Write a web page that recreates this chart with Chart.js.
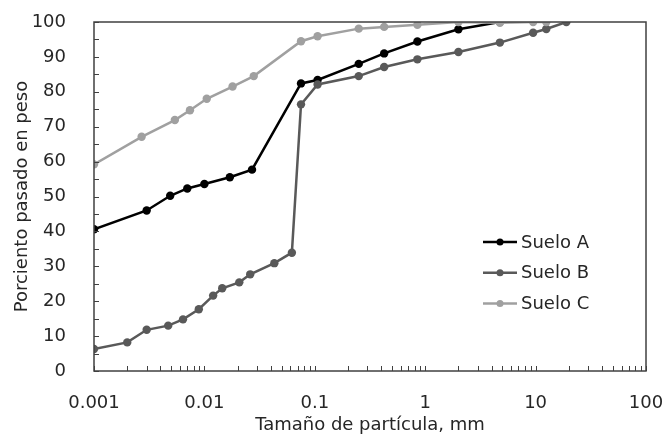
<!DOCTYPE html>
<html>
<head>
<meta charset="utf-8">
<script src="https://cdn.jsdelivr.net/npm/chart.js@4.4.1/dist/chart.umd.min.js"></script>
<style>
    html, body { margin: 0; padding: 0; background: #ffffff; }
    #wrap { width: 668px; height: 440px; position: relative; }
</style>
</head>
<body>
<div id="wrap"><canvas id="gradChart"></canvas></div>
<script>
// Data (particle size in mm, percent passing)
const sueloA_x = [0.001, 0.003, 0.0049, 0.007, 0.01, 0.017, 0.027, 0.075, 0.106, 0.25, 0.425, 0.85, 2, 4.75];
const sueloA_y = [40.6, 46, 50.2, 52.3, 53.6, 55.5, 57.7, 82.4, 83.4, 88, 91, 94.4, 97.9, 100];

const sueloB_x = [0.001, 0.002, 0.003, 0.0047, 0.0064, 0.0089, 0.012, 0.0145, 0.0207, 0.026, 0.043, 0.062, 0.075, 0.106, 0.25, 0.425, 0.85, 2, 4.75, 9.5, 12.5, 19];
const sueloB_y = [6.3, 8.2, 11.8, 13, 14.8, 17.7, 21.6, 23.7, 25.4, 27.7, 30.9, 33.9, 76.4, 82.1, 84.5, 87.1, 89.3, 91.4, 94.1, 96.9, 98, 100];

const sueloC_x = [0.001, 0.0027, 0.0054, 0.0074, 0.0105, 0.018, 0.028, 0.075, 0.106, 0.25, 0.425, 0.85, 2, 4.75, 9.5, 12.5];
const sueloC_y = [59.2, 67.1, 71.9, 74.7, 78, 81.5, 84.5, 94.5, 95.9, 98.1, 98.6, 99.2, 100, 99.8, 100, 100];

const seriesNames = ['Suelo A', 'Suelo B', 'Suelo C'];
const seriesColors = ['#000000', '#595959', '#a0a0a0'];

const xDecades = [0.001, 0.01, 0.1, 1, 10, 100];
const xTickLabels = ['0.001', '0.01', '0.1', '1', '10', '100'];
const yTicks = [0, 5, 10, 15, 20, 25, 30, 35, 40, 45, 50, 55, 60, 65, 70, 75, 80, 85, 90, 95, 100];

const textColor = '#262626';
const frameColor = '#404040';
const fontFamily = "'DejaVu Sans', Verdana, sans-serif";

const toPoints = (xs, ys) => xs.map((x, i) => ({ x: x, y: ys[i] }));

const allX = [sueloA_x, sueloB_x, sueloC_x];
const allY = [sueloA_y, sueloB_y, sueloC_y];

const datasets = seriesNames.map((name, i) => ({
    label: name,
    data: toPoints(allX[i], allY[i]),
    borderColor: seriesColors[i],
    backgroundColor: seriesColors[i],
    pointBackgroundColor: seriesColors[i],
    pointBorderColor: seriesColors[i],
    borderWidth: 2.5,
    pointRadius: 4.2,
    pointBorderWidth: 0,
    showLine: true,
    tension: 0,
    order: 3 - i // later series on top, like the spreadsheet
}));

// inward tick marks, plot frame and the line+marker legend
const framePlugin = {
    id: 'frame',
    afterDatasetsDraw: (chart) => {
        const { ctx, chartArea } = chart;
        const xs = chart.scales.x;
        const ys = chart.scales.y;
        ctx.save();
        ctx.strokeStyle = frameColor;
        ctx.lineWidth = 1;
        ctx.beginPath();
        ys.ticks.forEach(t => {
            const py = Math.round(ys.getPixelForValue(t.value)) + 0.5;
            ctx.moveTo(chartArea.left, py);
            ctx.lineTo(chartArea.left + 5, py);
        });
        xs.ticks.forEach(t => {
            const px = Math.round(xs.getPixelForValue(t.value)) + 0.5;
            ctx.moveTo(px, chartArea.bottom);
            ctx.lineTo(px, chartArea.bottom - 5);
        });
        ctx.stroke();
        ctx.lineWidth = 1.5;
        ctx.strokeRect(chartArea.left, chartArea.top, chartArea.right - chartArea.left, chartArea.bottom - chartArea.top);
        ctx.restore();
    },
    afterDraw: (chart) => {
        const { ctx, chartArea } = chart;
        const lx = chartArea.right - 163;
        let ly = chartArea.top + 220;
        ctx.save();
        ctx.font = '18px ' + fontFamily;
        ctx.textBaseline = 'middle';
        ctx.textAlign = 'left';
        chart.data.datasets.forEach(ds => {
            ctx.strokeStyle = ds.borderColor;
            ctx.fillStyle = ds.borderColor;
            ctx.lineWidth = 2.5;
            ctx.beginPath();
            ctx.moveTo(lx, ly);
            ctx.lineTo(lx + 34, ly);
            ctx.stroke();
            ctx.beginPath();
            ctx.arc(lx + 17, ly, 3.5, 0, Math.PI * 2);
            ctx.fill();
            ctx.fillStyle = textColor;
            ctx.fillText(ds.label, lx + 38, ly + 1);
            ly += 30.8;
        });
        ctx.restore();
    }
};

const ctx = document.getElementById('gradChart').getContext('2d');

const chart = new Chart(ctx, {
    type: 'scatter',
    data: { datasets: datasets },
    options: {
        responsive: true,
        maintainAspectRatio: false,
        animation: false,
        layout: {
            padding: { top: 22, right: 22, left: 0, bottom: 0 }
        },
        scales: {
            x: {
                type: 'logarithmic',
                min: 0.001,
                max: 100,
                afterBuildTicks: (scale) => {
                    const ticks = [];
                    xDecades.forEach((d, i) => {
                        if (i === xDecades.length - 1) {
                            ticks.push({ value: d });
                            return;
                        }
                        for (let k = 1; k <= 9; k++) ticks.push({ value: d * k });
                    });
                    scale.ticks = ticks;
                },
                afterFit: (scale) => {
                    scale.height = 69;
                    scale.paddingLeft = 0;
                    scale.paddingRight = 0;
                },
                grid: { display: false },
                border: { display: false },
                ticks: {
                    autoSkip: false,
                    maxRotation: 0,
                    padding: 14,
                    color: textColor,
                    font: { family: fontFamily, size: 18 },
                    callback: (value) => {
                        const idx = xDecades.findIndex(d => Math.abs(d - value) / d < 1e-6);
                        return idx >= 0 ? xTickLabels[idx] : '';
                    }
                },
                title: {
                    display: true,
                    text: 'Tamaño de partícula, mm',
                    color: textColor,
                    font: { family: fontFamily, size: 18 },
                    padding: { top: 0, bottom: 4 }
                }
            },
            y: {
                min: 0,
                max: 100,
                afterBuildTicks: (scale) => {
                    scale.ticks = yTicks.map(v => ({ value: v }));
                },
                afterFit: (scale) => {
                    scale.width = 94;
                    scale.paddingTop = 0;
                    scale.paddingBottom = 0;
                },
                grid: { display: false },
                border: { display: false },
                ticks: {
                    autoSkip: false,
                    padding: 20,
                    color: textColor,
                    font: { family: fontFamily, size: 18 },
                    callback: (value) => (value % 10 === 0 ? String(value) : '')
                },
                title: {
                    display: true,
                    text: 'Porciento pasado en peso',
                    color: textColor,
                    font: { family: fontFamily, size: 18 },
                    padding: { top: 12, bottom: 0 }
                }
            }
        },
        plugins: {
            legend: { display: false },
            tooltip: { enabled: false }
        }
    },
    plugins: [framePlugin]
});
</script>
</body>
</html>
